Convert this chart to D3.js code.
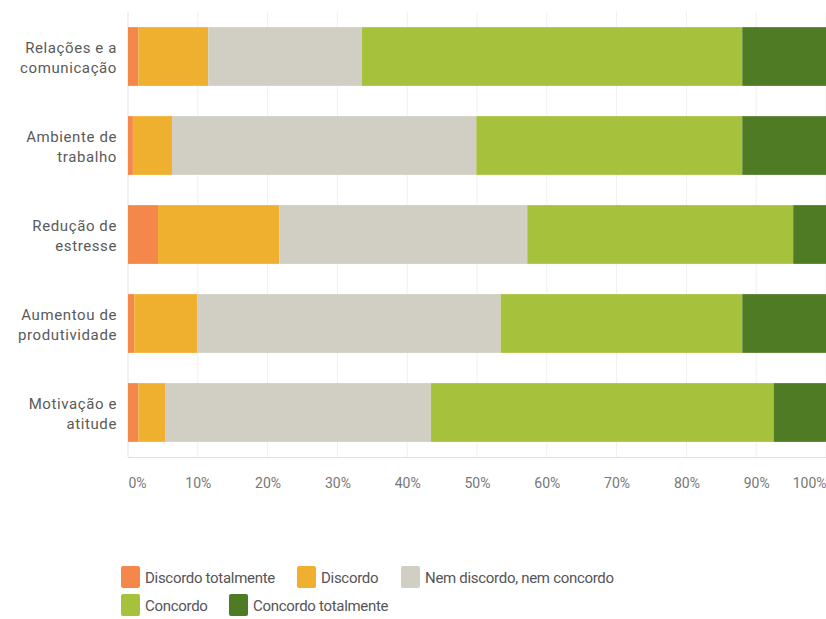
<!DOCTYPE html>
<html>
<head>
<meta charset="utf-8">
<script src="https://cdn.jsdelivr.net/npm/d3@7"></script>
<style>
  html, body { margin: 0; padding: 0; background: #fff; }
  svg { display: block; }
  text { font-family: Roboto, "Noto Sans", sans-serif; }
</style>
</head>
<body>
<svg id="chart" width="826" height="619"></svg>
<script>
// Survey answers, share of respondents (%) per statement
const categories = [
  ["Relações e a", "comunicação"],
  ["Ambiente de", "trabalho"],
  ["Redução de", "estresse"],
  ["Aumentou de", "produtividade"],
  ["Motivação e", "atitude"]
];
const seriesNames = ["Discordo totalmente", "Discordo", "Nem discordo, nem concordo", "Concordo", "Concordo totalmente"];
const discordoTotalmente = [1.5, 0.7, 4.3, 0.9, 1.5];
const discordo           = [10.0, 5.6, 17.4, 9.0, 3.8];
const nemNem             = [22.0, 43.6, 35.5, 43.5, 38.1];
const concordo           = [54.5, 38.1, 38.1, 34.6, 49.1];
const concordoTotalmente = [12.0, 12.0, 4.7, 12.0, 7.5];
const tickValues = [0, 10, 20, 30, 40, 50, 60, 70, 80, 90, 100];
const tickLabels = ["0%", "10%", "20%", "30%", "40%", "50%", "60%", "70%", "80%", "90%", "100%"];
const colors = ["#F4874A", "#EFB02F", "#D1CFC4", "#A6C23D", "#4F7B25"];

const seriesValues = [discordoTotalmente, discordo, nemNem, concordo, concordoTotalmente];
const rows = categories.map((c, i) => {
  const r = { key: i };
  seriesNames.forEach((s, j) => { r[s] = seriesValues[j][i]; });
  return r;
});

const svg = d3.select("#chart");
const x0 = 128, x1 = 826, yTop = 12, yBottom = 457;

const x = d3.scaleLinear().domain([0, 100]).range([x0, x1]);
const y = d3.scaleBand().domain(d3.range(categories.length)).range([yTop, yBottom]).paddingInner(0.34).paddingOuter(0.17);

// vertical gridlines
svg.append("g").selectAll("line").data(tickValues).join("line")
  .attr("x1", d => x(d)).attr("x2", d => x(d))
  .attr("y1", yTop).attr("y2", yBottom)
  .attr("stroke", d => d === 0 ? "#e2e2e2" : "#f0f0f2")
  .attr("stroke-width", 1);

// baseline
svg.append("line")
  .attr("x1", x0).attr("x2", x1).attr("y1", yBottom + 0.5).attr("y2", yBottom + 0.5)
  .attr("stroke", "#e2e2e6");

// stacked bars
const stack = d3.stack().keys(seriesNames);
const stacked = stack(rows);
svg.append("g").selectAll("g").data(stacked).join("g")
  .attr("fill", (d, i) => colors[i])
  .selectAll("rect").data(d => d).join("rect")
  .attr("x", d => x(d[0]))
  .attr("width", d => x(d[1]) - x(d[0]))
  .attr("y", (d, i) => y(i))
  .attr("height", y.bandwidth());

// category labels
const catG = svg.append("g");
categories.forEach((lines, i) => {
  const cy = y(i) + y.bandwidth() / 2;
  const t = catG.append("text")
    .attr("x", 117).attr("text-anchor", "end")
    .attr("fill", "#5a5a5a").attr("font-size", 15).attr("letter-spacing", 0.6);
  lines.forEach((ln, k) => {
    t.append("tspan").attr("x", 117).attr("y", cy - 9 + k * 20 + 5).text(ln);
  });
});

// x tick labels
const xAxis = d3.axisBottom(x).tickValues(tickValues).tickFormat((d, i) => tickLabels[i]).tickSize(0).tickPadding(0);
const axG = svg.append("g").attr("transform", `translate(0,${yBottom})`).call(xAxis);
axG.select(".domain").remove();
axG.selectAll("text")
  .attr("y", 26).attr("dy", "0.35em")
  .attr("fill", "#777")
  .attr("font-size", 14)
  .attr("font-family", "Roboto, 'Noto Sans', sans-serif")
  .attr("text-anchor", (d, i) => i === 0 ? "start" : (i === tickValues.length - 1 ? "end" : "middle"));

// legend
const legendPos = [
  { x: 121, y: 566 }, { x: 297, y: 566 }, { x: 401, y: 566 },
  { x: 121, y: 594 }, { x: 229, y: 594 }
];
const lg = svg.append("g").selectAll("g").data(seriesNames).join("g")
  .attr("transform", (d, i) => `translate(${legendPos[i].x},${legendPos[i].y})`);
lg.append("rect").attr("width", 19).attr("height", 22).attr("rx", 2).attr("fill", (d, i) => colors[i]);
lg.append("text").attr("x", 24).attr("y", 12).attr("dy", "0.35em")
  .attr("fill", "#555").attr("font-size", 15).attr("letter-spacing", -0.3).text(d => d);
</script>
</body>
</html>
